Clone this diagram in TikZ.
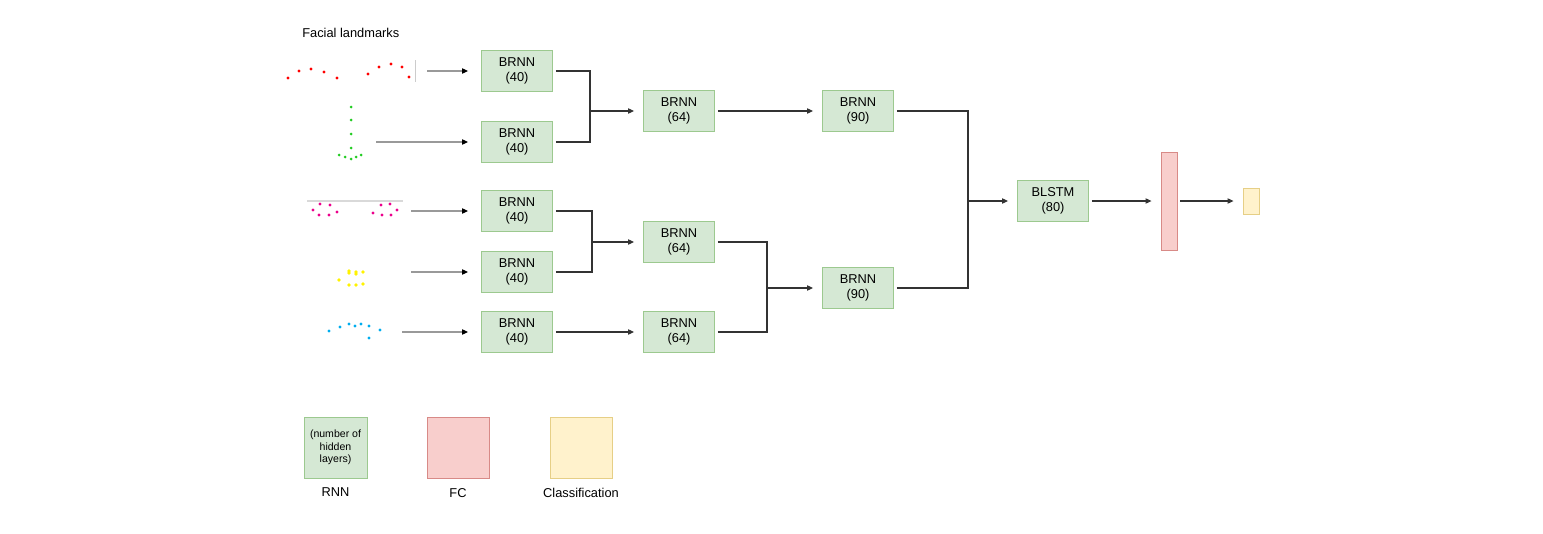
\documentclass[tikz,border=0pt]{standalone}
\usepackage{fontspec}
\setmainfont{Liberation Sans}
\usetikzlibrary{arrows.meta, positioning}

\definecolor{rnnfill}{HTML}{D5E8D4}
\definecolor{rnnline}{HTML}{9CC98F}
\definecolor{fcfill}{HTML}{F8CECC}
\definecolor{fcline}{HTML}{D88A87}
\definecolor{clsfill}{HTML}{FFF2CC}
\definecolor{clsline}{HTML}{E6CF86}
\definecolor{lmgreen}{HTML}{22CC22}

\begin{document}
\begin{tikzpicture}[
    x=0.02cm, y=-0.02cm,
    rnn/.style={rectangle, draw=rnnline, fill=rnnfill, line width=0.5pt,
                minimum height=0.82cm, minimum width=1.42cm, inner sep=0pt,
                align=center, font=\fontsize{7.3}{8.4}\selectfont},
    fc/.style={rectangle, draw=fcline, fill=fcfill, line width=0.5pt, inner sep=0pt},
    cls/.style={rectangle, draw=clsline, fill=clsfill, line width=0.5pt, inner sep=0pt},
    lbl/.style={inner sep=0pt, font=\fontsize{7.3}{8.4}\selectfont},
    link/.style={draw=black!80, line width=0.6pt, shorten <=0.06cm},
    arrow/.style={link, -{Triangle[length=3.4pt, width=3pt]}, shorten >=0.18cm},
    inarrow/.style={draw=black!40, line width=0.6pt,
                    -{Triangle[length=3.4pt, width=3pt, color=black]}, shorten >=0.26cm}
]
\useasboundingbox (0,0) rectangle (1543,534);

% landmarks
\node[lbl, anchor=west] (title) at (302,33) {Facial landmarks};
\draw[black!20, line width=0.5pt] (415,60) -- (415,82);
\draw[black!15, line width=0.6pt] (307,201) -- (403,201);
\foreach \px/\py in {288/78, 299/71, 311/69, 324/72, 337/78, 368/74, 379/67, 391/64, 402/67, 409/77}
    \fill[red] (\px,\py) circle[radius=0.034cm];
\foreach \px/\py in {351/107, 351/120, 351/134, 351/148, 339/155, 345/157, 351/159, 356/157, 361/155}
    \fill[lmgreen] (\px,\py) circle[radius=0.03cm];
\foreach \px/\py in {320/204, 330/205, 313/210, 319/215, 329/215, 337/212, 381/205, 390/204, 373/213, 382/215, 391/215, 397/210}
    \fill[magenta] (\px,\py) circle[radius=0.034cm];
\foreach \px/\py in {349/271, 349/273, 356/272, 356/274, 363/272, 339/280, 349/285, 356/285, 363/284}
    \fill[yellow] (\px,\py) circle[radius=0.036cm];
\foreach \px/\py in {329/331, 340/327, 349/324, 355/326, 361/324, 369/326, 380/330, 369/338}
    \fill[cyan] (\px,\py) circle[radius=0.034cm];

\coordinate (lm1) at (427,71);
\coordinate (lm2) at (376,142);
\coordinate (lm3) at (411,211);
\coordinate (lm4) at (411,272);
\coordinate (lm5) at (402,332);

% network
\node[rnn] (b1a) at (517,71)  {BRNN\\(40)};
\node[rnn] (b1b) at (517,142) {BRNN\\(40)};
\node[rnn] (b1c) at (517,211) {BRNN\\(40)};
\node[rnn] (b1d) at (517,272) {BRNN\\(40)};
\node[rnn] (b1e) at (517,332) {BRNN\\(40)};
\node[rnn] (b2a) at (679,111) {BRNN\\(64)};
\node[rnn] (b2b) at (679,242) {BRNN\\(64)};
\node[rnn] (b2c) at (679,332) {BRNN\\(64)};
\node[rnn] (b3a) at (858,111) {BRNN\\(90)};
\node[rnn] (b3b) at (858,288) {BRNN\\(90)};
\node[rnn] (blstm) at (1053,201) {BLSTM\\(80)};
\node[fc, minimum width=0.32cm, minimum height=1.96cm] (fc) at (1169,201) {};
\node[cls, minimum width=0.32cm, minimum height=0.52cm] (out) at (1251,201) {};

\coordinate (j1) at (590,111);
\coordinate (j2) at (592,242);
\coordinate (j3) at (767,288);
\coordinate (j4) at (968,201);

\foreach \src/\dst in {lm1/b1a, lm2/b1b, lm3/b1c, lm4/b1d, lm5/b1e}
    \draw[inarrow] (\src) -- (\src -| \dst.west);

\draw[link] (b1a.east) -| (j1);
\draw[link] (b1b.east) -| (j1);
\draw[arrow, shorten <=0pt] (j1) -- (b2a.west);
\draw[link] (b1c.east) -| (j2);
\draw[link] (b1d.east) -| (j2);
\draw[arrow, shorten <=0pt] (j2) -- (b2b.west);
\draw[arrow] (b1e) -- (b2c);
\draw[arrow] (b2a) -- (b3a);
\draw[link] (b2b.east) -| (j3);
\draw[link] (b2c.east) -| (j3);
\draw[arrow, shorten <=0pt] (j3) -- (b3b.west);
\draw[link] (b3a.east) -| (j4);
\draw[link] (b3b.east) -| (j4);
\draw[arrow, shorten <=0pt] (j4) -- (blstm.west);
\draw[arrow] (blstm) -- (fc);
\draw[arrow] (fc) -- (out);

% legend
\node[rnn, minimum width=1.26cm, minimum height=1.22cm, font=\fontsize{6}{7}\selectfont]
    (lgrnn) at (335.5,447.5) {(number of\\hidden\\layers)};
\node[fc, minimum width=1.24cm, minimum height=1.22cm] (lgfc) at (458,447.5) {};
\node[cls, minimum width=1.24cm, minimum height=1.22cm] (lgcls) at (581,447.5) {};
\node[lbl, below=0.18cm of lgrnn] (lbrnn) {RNN};
\node[lbl, below=0.2cm of lgfc] (lbfc) {FC};
\node[lbl, below=0.18cm of lgcls] (lbcls) {Classification};

\end{tikzpicture}
\end{document}
